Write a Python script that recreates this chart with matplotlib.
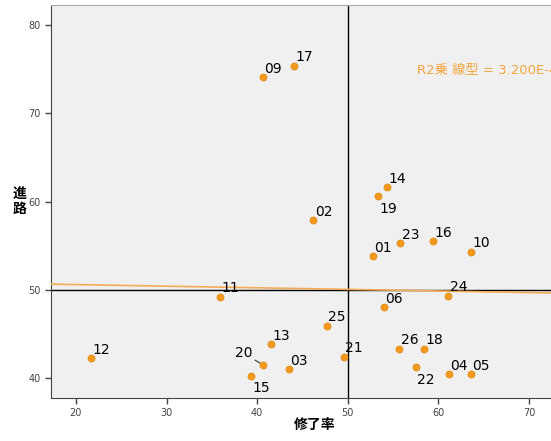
import numpy as np
import matplotlib
matplotlib.use("Agg")
import matplotlib.pyplot as plt

plt.rcParams['font.family'] = ['DejaVu Sans', 'Noto Sans CJK JP']

# data
ids = ['09', '17', '14', '19', '02', '01', '23', '16', '10', '11', '24', '06', '25',
       '13', '12', '20', '03', '21', '26', '18', '22', '04', '05', '15']
completion = [40.6, 44.1, 54.3, 53.3, 46.2, 52.8, 55.8, 59.4, 63.6, 35.9, 61.1, 54.0, 47.7,
              41.5, 21.7, 40.6, 43.5, 49.6, 55.7, 58.4, 57.5, 61.2, 63.6, 39.3]
career = [74.1, 75.4, 61.6, 60.6, 57.9, 53.8, 55.3, 55.5, 54.3, 49.2, 49.3, 48.0, 45.9,
          43.8, 42.2, 41.5, 41.0, 42.4, 43.3, 43.3, 41.2, 40.4, 40.4, 40.2]

# label offsets (points) relative to the marker
offsets = {'19': (1, -14), '15': (1, -14), '22': (1, -14), '20': (-20, 3)}

orange = '#f39a1e'


def main():
    fig = plt.figure(figsize=(5.51, 4.41), dpi=100)
    ax = fig.add_axes([51 / 551, 43 / 441, 1 - 51 / 551 + 0.01, 393 / 441])
    ax.set_facecolor('#f0f0f0')

    ax.set_xlim(17.25, 73.05)
    ax.set_ylim(37.7, 82.3)

    ax.axvline(50, color='black', lw=1, zorder=2)
    ax.axhline(50, color='black', lw=1, zorder=2)

    # linear fit line
    k, b = np.polyfit(completion, career, 1)
    xs = np.array([17.25, 73.05])
    ax.plot(xs, k * xs + b, color='#f5ac55', lw=1.2, zorder=3)

    ax.scatter(completion, career, s=26, color=orange, edgecolors='#e08a10',
               linewidths=0.5, zorder=4)

    for name, x, y in zip(ids, completion, career):
        dx, dy = offsets.get(name, (1, 1))
        if name == '20':
            ax.annotate(name, (x, y), xytext=(dx, dy), textcoords='offset points',
                        fontsize=10, ha='left', va='bottom',
                        arrowprops=dict(arrowstyle='-', color='#333333', lw=0.8,
                                        shrinkA=0, shrinkB=2))
        else:
            ax.annotate(name, (x, y), xytext=(dx, dy), textcoords='offset points',
                        fontsize=10, ha='left', va='bottom', zorder=5)

    # the reference cuts this text off at the right edge
    ax.text(0.757, 0.832, 'R2乗 線型 = 3.200E-4', transform=fig.transFigure,
            color='#f5a43a', fontsize=9.5, family=['DejaVu Sans', 'Noto Sans CJK JP'])

    ax.set_xticks([20, 30, 40, 50, 60, 70])
    ax.set_yticks([40, 50, 60, 70, 80])
    ax.tick_params(direction='out', length=4, width=1, labelsize=7,
                   labelcolor='#444444', color='#444444')
    for side in ['left', 'bottom']:
        ax.spines[side].set_color('#444444')
    ax.spines['top'].set_color('#aaaaaa')
    ax.spines['right'].set_visible(False)

    fig.text(315 / 551, 1 - 425 / 441, '修了率', ha='center', va='center',
             fontsize=10, fontweight='bold', family=['Noto Sans CJK JP'])
    fig.text(20 / 551, 1 - 202 / 441, '進\n路', ha='center', va='center',
             fontsize=10, fontweight='bold', family=['Noto Sans CJK JP'],
             linespacing=1.0)

    fig.savefig('out.png', dpi=100)


if __name__ == "__main__":
    main()
